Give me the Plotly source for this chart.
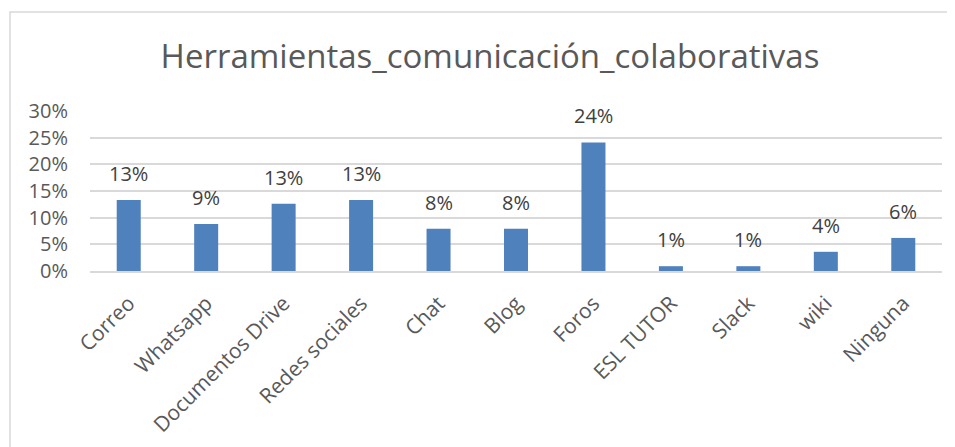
import plotly.graph_objects as go

categories = ["Correo", "Whatsapp", "Documentos Drive", "Redes sociales", "Chat", "Blog",
              "Foros", "ESL TUTOR", "Slack", "wiki", "Ninguna"]
values = [0.133, 0.088, 0.126, 0.133, 0.079, 0.079, 0.241, 0.009, 0.009, 0.036, 0.062]
y_ticks = [0, 0.05, 0.10, 0.15, 0.20, 0.25, 0.30]
y_tick_labels = ["0%", "5%", "10%", "15%", "20%", "25%", "30%"]

# page body has an 8px margin; compensate so the figure lands where the reference is
OFF = 8
W, H = 955, 447
L = 90 - OFF
T = 111 - OFF
pw = 852
ph = 160
R = W - L - pw
B = H - T - ph

FONT = "Open Sans"
GREY = "#595959"

fig = go.Figure()
fig.add_trace(go.Bar(
    x=categories, y=values,
    marker=dict(color="#4F81BD", line=dict(width=0)),
    width=0.31,
    hoverinfo="skip",
))

for c, v in zip(categories, values):
    fig.add_annotation(x=c, y=v, text=f"{v*100:.0f}%", showarrow=False,
                       xanchor="center", yanchor="bottom", yshift=11,
                       font=dict(size=20, color="#404040", family=FONT))

fig.update_layout(
    width=W, height=H,
    margin=dict(l=L, r=R, t=T, b=B, autoexpand=False),
    paper_bgcolor="white", plot_bgcolor="white",
    showlegend=False,
    title=dict(text="Herramientas_comunicación_colaborativas",
               x=(490 - 90) / pw, xref="paper", xanchor="center",
               y=1 - (56 - OFF) / H, yref="container", yanchor="middle",
               font=dict(size=33, color=GREY, family=FONT)),
    font=dict(family=FONT, color=GREY),
)
fig.update_xaxes(
    tickangle=-45, tickfont=dict(size=21, color=GREY, family=FONT),
    showgrid=False, showline=True, linecolor="#D9D9D9", linewidth=1.5,
    ticks="", ticklabelstandoff=10,
)
fig.update_yaxes(
    range=[0, 0.30], tickvals=y_ticks, ticktext=y_tick_labels,
    tickfont=dict(size=20, color=GREY, family=FONT),
    showgrid=True, gridcolor="#D9D9D9", gridwidth=1.5,
    zeroline=False, showline=False, ticks="", ticklabelstandoff=21,
)
# outer chart border
fig.add_shape(type="rect", xref="paper", yref="paper",
              x0=(10 - 90) / pw, x1=(965 - 90) / pw,
              y0=(271 - 470) / ph, y1=(271 - 12) / ph,
              line=dict(color="#D9D9D9", width=1.5), fillcolor="rgba(0,0,0,0)",
              layer="below")

fig.write_html("out.html")
